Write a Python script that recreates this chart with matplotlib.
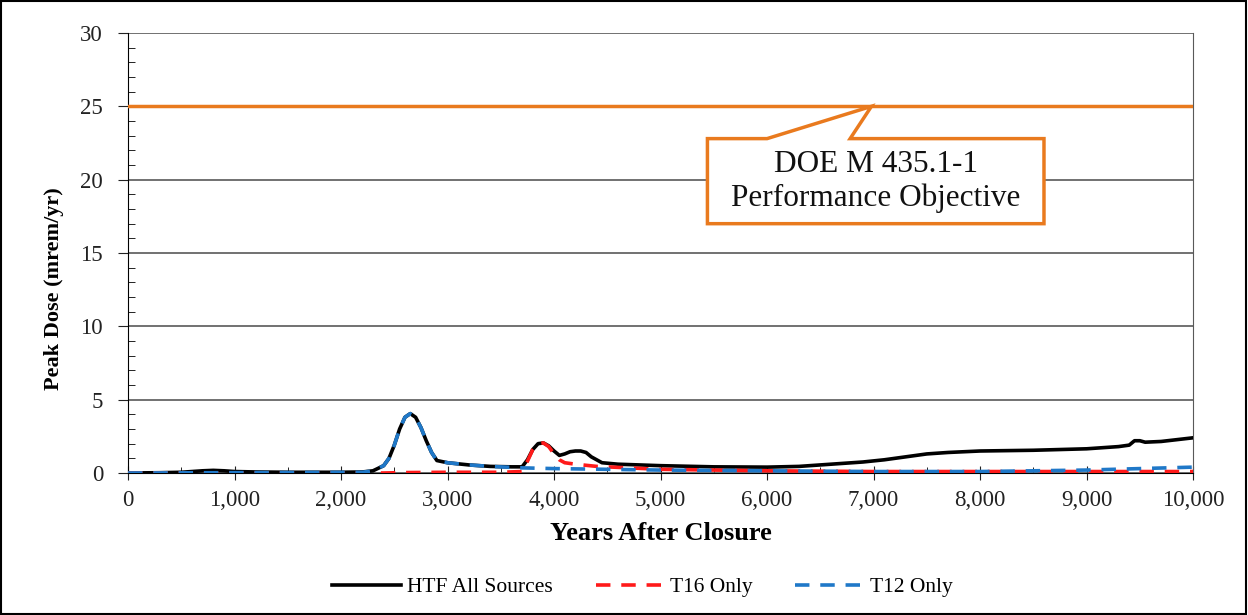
import numpy as np
import matplotlib.pyplot as plt
from matplotlib.patches import Polygon, Rectangle
from matplotlib.ticker import MultipleLocator, FuncFormatter

plt.rcParams['font.family'] = ['Liberation Serif', 'DejaVu Serif']

# HTF All Sources
htf_x = [0, 300, 500, 600, 700, 800, 900, 1000, 1200, 1500, 2000, 2200, 2300, 2400, 2450, 2500,
         2550, 2600, 2650, 2700, 2750, 2800, 2850, 2900, 3000, 3200, 3400, 3600, 3700, 3750,
         3800, 3850, 3900, 3950, 4000, 4050, 4100, 4150, 4200, 4250, 4300, 4350, 4450, 4600,
         5000, 5500, 6000, 6300, 6600, 6900, 7100, 7300, 7500, 7700, 8000, 8500, 9000, 9300,
         9400, 9450, 9500, 9550, 9700, 10000]
htf_y = [0.0, 0.02, 0.05, 0.1, 0.15, 0.18, 0.15, 0.1, 0.07, 0.05, 0.05, 0.07, 0.15, 0.5, 1.0, 1.9,
         3.0, 3.8, 4.05, 3.8, 3.1, 2.2, 1.4, 0.85, 0.7, 0.55, 0.45, 0.42, 0.42, 0.9,
         1.6, 2.0, 2.05, 1.85, 1.5, 1.2, 1.3, 1.45, 1.5, 1.5, 1.4, 1.1, 0.7, 0.6,
         0.5, 0.42, 0.4, 0.45, 0.6, 0.75, 0.9, 1.1, 1.3, 1.4, 1.5, 1.55, 1.65, 1.8,
         1.9, 2.2, 2.2, 2.1, 2.15, 2.4]

# T16 Only
t16_x = [0, 2400, 2600, 3000, 3500, 3700, 3750, 3800, 3850, 3900, 3950, 4000, 4050, 4100,
         4200, 4400, 4700, 5000, 6000, 7000, 8000, 9000, 10000]
t16_y = [0.0, 0.0, 0.03, 0.05, 0.05, 0.1, 0.8, 1.6, 2.0, 2.05, 1.8, 1.3, 0.9, 0.7,
         0.6, 0.45, 0.35, 0.25, 0.15, 0.1, 0.1, 0.1, 0.1]

# T12 Only
t12_x = [0, 2200, 2300, 2400, 2450, 2500, 2550, 2600, 2650, 2700, 2750, 2800, 2850, 2900,
         3000, 3200, 3400, 3700, 4000, 4500, 5000, 6000, 7000, 8000, 9000, 9500, 10000]
t12_y = [0.0, 0.05, 0.15, 0.5, 1.0, 1.9, 3.0, 3.8, 4.05, 3.8, 3.1, 2.2, 1.4, 0.85,
         0.7, 0.55, 0.45, 0.35, 0.3, 0.25, 0.2, 0.15, 0.1, 0.1, 0.2, 0.3, 0.4]

objective = 25
orange = '#E97A1E'

fig = plt.figure(figsize=(12.48, 6.15), dpi=100)
ax = fig.add_axes([0.1026, 0.2309, 0.8534, 0.7154])

ax.axhline(objective, color=orange, lw=2.5, zorder=3)
ax.plot(htf_x, htf_y, color='black', lw=2.6, label='HTF All Sources', zorder=4)
ax.plot(t16_x, t16_y, color='#FF1A1A', lw=2.6, ls=(0, (4, 3)), label='T16 Only', zorder=5)
ax.plot(t12_x, t12_y, color='#1F78C8', lw=2.6, ls=(0, (4, 3)), label='T12 Only', zorder=6)

ax.set_xlim(0, 10000)
ax.set_ylim(0, 30)
ax.xaxis.set_major_locator(MultipleLocator(1000))
ax.xaxis.set_minor_locator(MultipleLocator(500))
ax.yaxis.set_major_locator(MultipleLocator(5))
ax.yaxis.set_minor_locator(MultipleLocator(1))
ax.xaxis.set_major_formatter(FuncFormatter(lambda v, p: f'{int(v):,}'))
ax.grid(axis='y', which='major', color='#595959', lw=1.2)
ax.set_axisbelow(True)
ax.tick_params(axis='x', which='major', direction='inout', length=10, labelsize=16.5, pad=7)
ax.tick_params(axis='x', which='minor', direction='in', length=4)
ax.tick_params(axis='y', which='major', direction='out', length=7, labelsize=16.5, pad=11)
ax.tick_params(axis='y', which='minor', direction='in', length=5)
ax.tick_params(colors='#222222', labelcolor='#222222')
ax.spines['top'].set_visible(False)
ax.spines['right'].set_color('#595959')
ax.spines['left'].set_color('black')
ax.spines['bottom'].set_color('black')

ax.set_xlabel('Years After Closure', fontsize=19, fontweight='bold', labelpad=8)
ax.set_ylabel('Peak Dose (mrem/yr)', fontsize=16, fontweight='bold')
ax.yaxis.set_label_coords(-0.06, 0.42)

# callout box with pointer to the objective line
callout = [(5440, 17.0), (5440, 22.8), (6000, 22.8), (6980, 25.0), (6780, 22.8),
           (8600, 22.8), (8600, 17.0)]
ax.add_patch(Polygon(callout, closed=True, facecolor='white', edgecolor=orange,
                     lw=2.5, joinstyle='miter', zorder=7))
ax.text(7020, 19.85, 'DOE M 435.1-1\nPerformance Objective', ha='center', va='center',
        fontsize=22.5, linespacing=1.2, color='#111111', zorder=9)

ax.legend(loc='center', bbox_to_anchor=(0.483, -0.26), ncol=3, frameon=False,
          fontsize=15.5, handlelength=3.2, handletextpad=0.25, columnspacing=2.0)

fig.patches.append(Rectangle((0.001, 0.002), 0.997, 0.996, transform=fig.transFigure,
                             fill=False, edgecolor='black', lw=1.5))

fig.savefig('out.png', dpi=100)
